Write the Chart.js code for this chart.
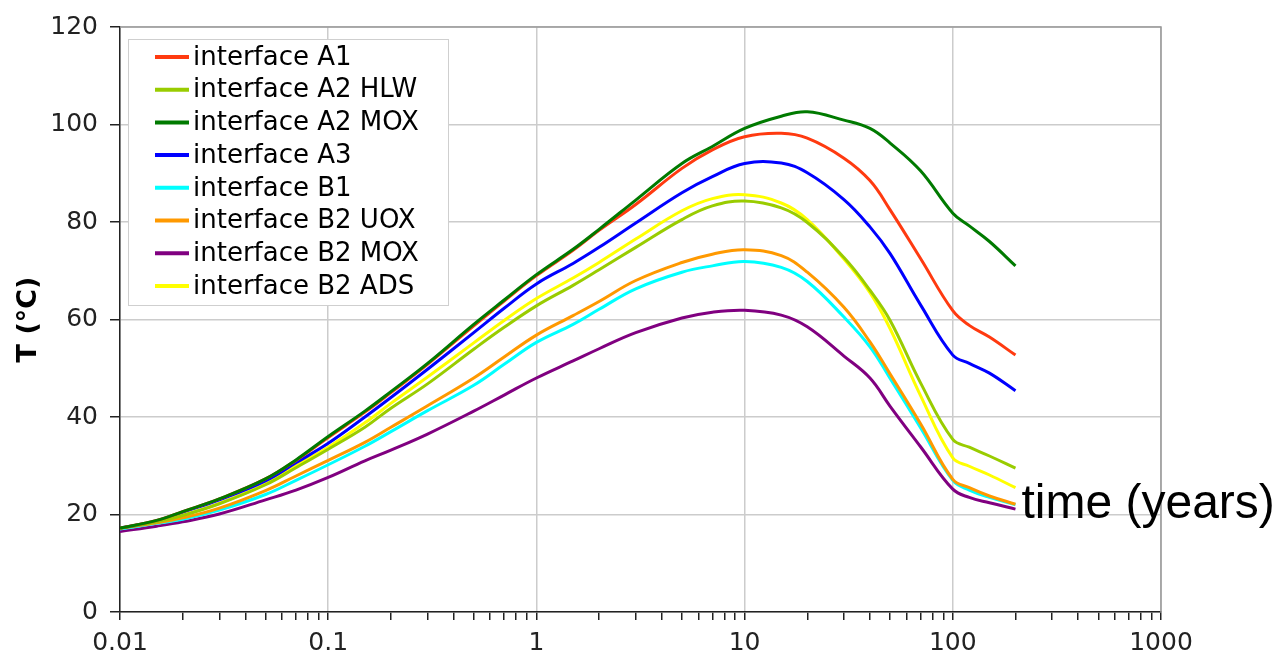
<!DOCTYPE html>
<html>
<head>
<meta charset="utf-8">
<script src="https://cdn.jsdelivr.net/npm/chart.js@4.4.0/dist/chart.umd.min.js"></script>
<style>
  html, body { margin: 0; padding: 0; background: #fff; }
  #wrap { width: 1279px; height: 663px; position: relative; }
</style>
</head>
<body>
<div id="wrap"><canvas id="chart"></canvas></div>
<script>
// DATA
const years = [0.01, 0.015, 0.02, 0.03, 0.05, 0.07, 0.1, 0.15, 0.2, 0.3, 0.5, 0.7, 1, 1.5, 2, 3, 5, 7, 10, 15, 20, 30, 40, 50, 70, 100, 120, 150, 200];

const tA1     = [17.2, 18.8, 20.6, 23.2, 27.3, 31.1, 35.8, 41.0, 45.0, 50.8, 58.7, 63.8, 69.0, 74.2, 78.3, 83.6, 91.0, 94.8, 97.5, 98.2, 97.2, 93.1, 88.5, 82.5, 72.5, 61.8, 58.8, 56.4, 52.7];
const tA2hlw  = [17.2, 18.5, 19.8, 22.2, 26.1, 29.6, 33.4, 37.9, 41.8, 46.8, 53.9, 58.4, 62.8, 67.0, 70.2, 74.8, 80.5, 83.3, 84.3, 82.9, 79.9, 72.7, 66.0, 59.8, 47.0, 35.4, 33.8, 32.0, 29.5];
const tA2mox  = [17.2, 18.8, 20.6, 23.2, 27.3, 31.2, 36.0, 41.2, 45.2, 51.0, 59.0, 64.0, 69.2, 74.4, 78.5, 84.5, 92.0, 95.5, 99.2, 101.7, 102.6, 100.9, 99.2, 96.2, 90.5, 81.8, 79.2, 76.0, 71.0];
const tA3     = [17.2, 18.7, 20.5, 23.0, 26.9, 30.6, 34.6, 40.0, 44.0, 49.8, 57.3, 62.3, 67.3, 71.5, 74.8, 79.8, 86.0, 89.3, 92.0, 92.1, 90.1, 84.6, 79.0, 73.5, 63.0, 52.7, 51.0, 49.0, 45.4];
const tB1     = [17.0, 18.2, 19.0, 20.9, 24.1, 27.0, 30.2, 34.0, 37.0, 41.3, 46.5, 50.8, 55.3, 59.0, 62.1, 66.3, 69.7, 71.0, 71.9, 70.7, 67.8, 60.5, 54.4, 47.9, 37.8, 27.0, 25.0, 23.5, 22.0];
const tB2uox  = [17.2, 18.3, 19.3, 21.3, 24.9, 27.9, 31.1, 34.8, 37.9, 42.3, 48.0, 52.3, 56.8, 60.8, 63.7, 68.0, 71.7, 73.4, 74.3, 73.1, 69.7, 62.5, 55.4, 48.8, 38.6, 27.2, 25.5, 23.8, 22.1];
const tB2mox  = [16.5, 17.6, 18.5, 20.1, 23.0, 25.0, 27.6, 31.0, 33.2, 36.5, 41.2, 44.5, 48.0, 51.5, 54.0, 57.3, 60.3, 61.5, 61.9, 60.9, 58.5, 52.5, 48.0, 42.2, 33.9, 25.2, 23.5, 22.4, 21.1];
const tB2ads  = [17.2, 18.5, 19.9, 22.3, 26.3, 30.0, 33.8, 38.8, 42.8, 48.2, 55.2, 59.8, 64.3, 68.5, 71.7, 76.5, 82.3, 84.8, 85.6, 83.9, 80.5, 72.4, 65.5, 58.1, 44.4, 31.6, 29.9, 28.1, 25.5];

const labels = ["interface A1", "interface A2 HLW", "interface A2 MOX", "interface A3",
                "interface B1", "interface B2 UOX", "interface B2 MOX", "interface B2 ADS"];
const decades = [0.01, 0.1, 1, 10, 100, 1000];
const tempTicks = [0, 20, 40, 60, 80, 100, 120];

const colors = ["#ff3a10", "#99cc00", "#007a00", "#0000ff", "#00ffff", "#ff9900", "#800080", "#ffff00"];
const series = [tA1, tA2hlw, tA2mox, tA3, tB1, tB2uox, tB2mox, tB2ads];
const drawOrder = [2, 3, 1, 4, 6, 5, 7, 8]; // lower = on top

const isMajor = (v) => decades.some((d) => Math.abs(v - d) / d < 1e-6);

// legend box inside the plot, top-left
const legendBox = {
  id: "legendBox",
  afterDraw(chart) {
    const ctx = chart.ctx;
    const area = chart.chartArea;
    const x0 = area.left + 8, y0 = area.top + 12, w = 320, h = 266;
    ctx.save();
    ctx.fillStyle = "#fff";
    ctx.fillRect(x0, y0, w, h);
    ctx.strokeStyle = "#cfcfcf";
    ctx.lineWidth = 1;
    ctx.strokeRect(x0 + 0.5, y0 + 0.5, w, h);
    ctx.font = "26px 'DejaVu Sans'";
    ctx.textBaseline = "middle";
    ctx.fillStyle = "#000";
    chart.data.datasets.forEach((ds, i) => {
      const y = y0 + 19 + i * 32.7;
      ctx.strokeStyle = ds.borderColor;
      ctx.lineWidth = 4;
      ctx.beginPath();
      ctx.moveTo(x0 + 27, y - 1);
      ctx.lineTo(x0 + 61, y - 1);
      ctx.stroke();
      ctx.fillText(ds.label, x0 + 65, y);
    });
    ctx.restore();
  },
};

// gray frame on top/right + "time (years)" note
const extras = {
  id: "extras",
  beforeDatasetsDraw(chart) {
    const ctx = chart.ctx;
    const a = chart.chartArea;
    ctx.save();
    ctx.strokeStyle = "#999";
    ctx.lineWidth = 1.5;
    ctx.beginPath();
    ctx.moveTo(a.left, a.top);
    ctx.lineTo(a.right, a.top);
    ctx.lineTo(a.right, a.bottom);
    ctx.stroke();
    ctx.restore();
  },
  afterDraw(chart) {
    const ctx = chart.ctx;
    const xs = chart.scales.x;
    ctx.save();
    ctx.font = "48px 'Liberation Sans'";
    ctx.fillStyle = "#000";
    ctx.textBaseline = "alphabetic";
    ctx.fillText("time (years)", xs.getPixelForValue(200) + 6, 518);
    ctx.restore();
  },
};

new Chart(document.getElementById("chart"), {
  type: "line",
  data: {
    datasets: series.map((s, i) => ({
      label: labels[i],
      data: years.map((x, j) => ({ x, y: s[j] })),
      borderColor: colors[i],
      backgroundColor: colors[i],
      borderWidth: 3,
      pointRadius: 0,
      fill: false,
      tension: 0.4,
      order: drawOrder[i],
    })),
  },
  options: {
    responsive: true,
    maintainAspectRatio: false,
    animation: false,
    layout: { padding: { left: 0, right: 118, top: 23, bottom: 0 } },
    plugins: { legend: { display: false }, tooltip: { enabled: false } },
    scales: {
      x: {
        type: "logarithmic",
        min: 0.01,
        max: 1000,
        afterFit: (s) => { s.height = 51; },
        afterBuildTicks: (s) => {
          const t = [];
          decades.forEach((d, k) => {
            if (k === decades.length - 1) { t.push({ value: d }); return; }
            for (let m = 1; m <= 9; m++) t.push({ value: d * m });
          });
          s.ticks = t;
        },
        grid: {
          color: (c) => (c.tick && isMajor(c.tick.value) ? "#cccccc" : "rgba(0,0,0,0)"),
          tickColor: "#222",
          tickLength: 8,
          lineWidth: 1.5,
        },
        border: { color: "#222", width: 1.5 },
        ticks: {
          autoSkip: false,
          maxRotation: 0,
          padding: 8,
          color: "#222",
          font: { family: "'DejaVu Sans'", size: 25 },
          callback: (v) => (isMajor(v) ? String(v) : ""),
        },
      },
      y: {
        min: 0,
        max: 120,
        afterFit: (s) => { s.width = 120; },
        afterBuildTicks: (s) => { s.ticks = tempTicks.map((v) => ({ value: v })); },
        grid: { color: "#cccccc", tickColor: "#222", tickLength: 10, lineWidth: 1.5 },
        border: { color: "#222", width: 1.5 },
        ticks: {
          padding: 12,
          color: "#222",
          font: { family: "'DejaVu Sans'", size: 25 },
        },
        title: {
          display: true,
          text: "T (°C)",
          color: "#000",
          font: { family: "'DejaVu Sans'", size: 27, weight: "bold" },
          padding: { top: 13, bottom: 0 },
        },
      },
    },
  },
  plugins: [legendBox, extras],
});
</script>
</body>
</html>
